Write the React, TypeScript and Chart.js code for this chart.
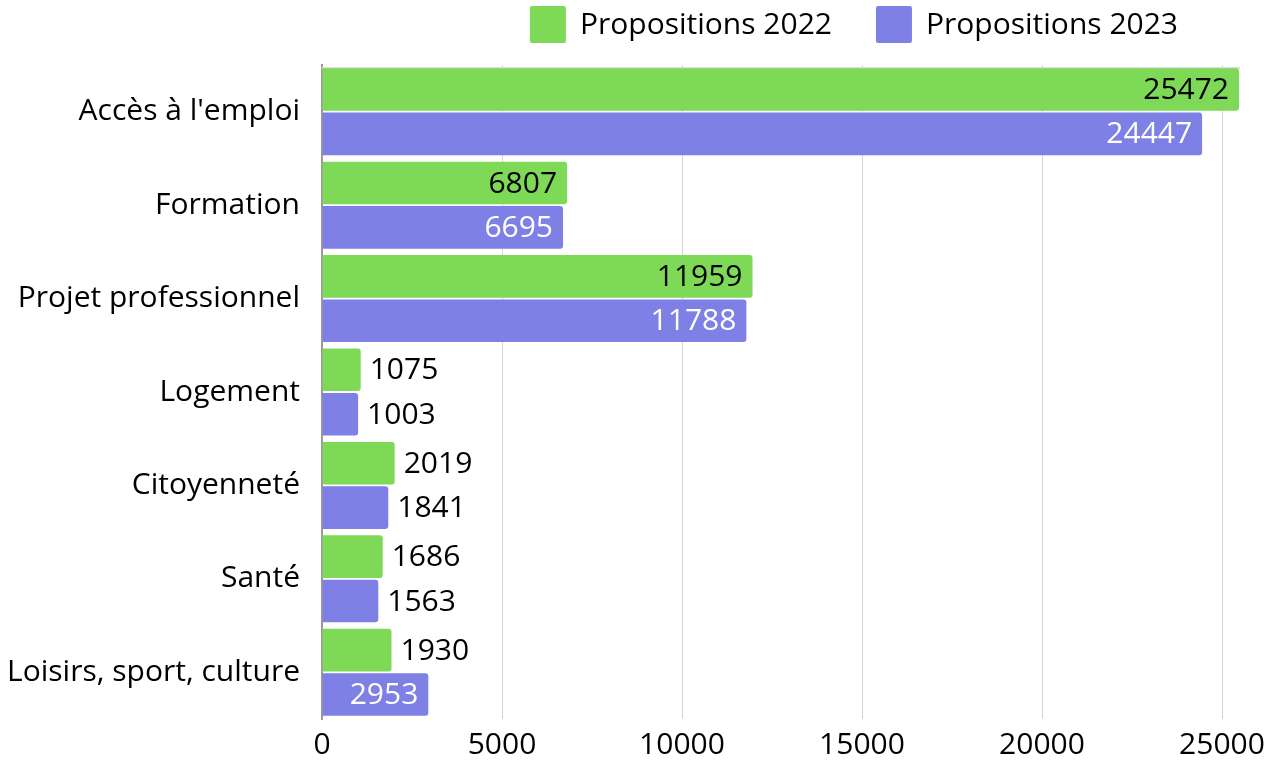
import React, { useEffect, useRef } from "react";
import { Chart, registerables } from "chart.js";

Chart.register(...registerables);

const categories = [
  "Accès à l'emploi",
  "Formation",
  "Projet professionnel",
  "Logement",
  "Citoyenneté",
  "Santé",
  "Loisirs, sport, culture",
];
const values2022 = [25472, 6807, 11959, 1075, 2019, 1686, 1930];
const values2023 = [24447, 6695, 11788, 1003, 1841, 1563, 2953];
const seriesLabels = ["Propositions 2022", "Propositions 2023"];
const xTicks = [0, 5000, 10000, 15000, 20000, 25000];

const GREEN = "#7ed957";
const PURPLE = "#7f80e6";
const FONT = "'Open Sans', 'Noto Sans', sans-serif";
const FS = 30;

const labelPlugin = {
  id: "valueLabels",
  afterDatasetsDraw(chart: any) {
    const ctx = chart.ctx;
    ctx.save();
    ctx.font = `${FS}px ${FONT}`;
    ctx.textBaseline = "middle";
    chart.data.datasets.forEach((ds: any, di: number) => {
      const meta = chart.getDatasetMeta(di);
      meta.data.forEach((el: any, i: number) => {
        const txt = String(ds.data[i]);
        const w = ctx.measureText(txt).width;
        const barW = el.x - el.base;
        if (barW >= w + 30) {
          ctx.textAlign = "right";
          ctx.fillStyle = di === 0 ? "#000000" : "#ffffff";
          ctx.fillText(txt, el.x - 10, el.y + 1);
        } else {
          ctx.textAlign = "left";
          ctx.fillStyle = "#000000";
          ctx.fillText(txt, el.x + 9, el.y + 1);
        }
      });
    });
    ctx.restore();
  },
};

const framePlugin = {
  id: "frameAndLegend",
  beforeDatasetsDraw(chart: any) {
    const ctx = chart.ctx;
    const a = chart.chartArea;
    ctx.save();
    ctx.strokeStyle = "#dcdcdc";
    ctx.lineWidth = 2;
    ctx.beginPath();
    ctx.moveTo(a.left, a.top + 3);
    ctx.lineTo(a.right, a.top + 3);
    ctx.stroke();
    ctx.restore();
  },
  afterDraw(chart: any) {
    const ctx = chart.ctx;
    ctx.save();
    ctx.font = `${FS}px ${FONT}`;
    ctx.textBaseline = "middle";
    ctx.textAlign = "left";
    const box = 36;
    const gap = 14;
    const itemGap = 44;
    const colors = [GREEN, PURPLE];
    const widths = seriesLabels.map((t) => box + gap + ctx.measureText(t).width);
    const total = widths.reduce((s, w) => s + w, 0) + itemGap * (widths.length - 1);
    let x = chart.width - 86 - total;
    const top = 6;
    seriesLabels.forEach((t, i) => {
      ctx.fillStyle = colors[i];
      ctx.beginPath();
      ctx.roundRect(x, top, box, box + 1, 2);
      ctx.fill();
      ctx.fillStyle = "#000000";
      ctx.fillText(t, x + box + gap, top + box / 2 + 1);
      x += widths[i] + itemGap;
    });
    ctx.restore();
  },
};

export default function App() {
  const ref = useRef<HTMLCanvasElement | null>(null);
  useEffect(() => {
    document.body.style.margin = "0";
    const chart = new Chart(ref.current as HTMLCanvasElement, {
      type: "bar",
      data: {
        labels: categories,
        datasets: [
          {
            label: seriesLabels[0],
            data: values2022,
            backgroundColor: GREEN,
            borderRadius: 3,
            categoryPercentage: 0.95,
            barPercentage: 0.96,
          },
          {
            label: seriesLabels[1],
            data: values2023,
            backgroundColor: PURPLE,
            borderRadius: 3,
            categoryPercentage: 0.95,
            barPercentage: 0.96,
          },
        ],
      },
      options: {
        indexAxis: "y",
        responsive: false,
        animation: false,
        devicePixelRatio: 1,
        layout: { padding: { top: 65, left: 5, right: 24, bottom: 0 } },
        plugins: {
          legend: { display: false },
          tooltip: { enabled: false },
        },
        scales: {
          x: {
            min: 0,
            max: 25500,
            afterBuildTicks: (scale: any) => {
              scale.ticks = xTicks.map((v) => ({ value: v }));
            },
            afterFit: (scale: any) => {
              scale.height = 42;
              scale.paddingLeft = 0;
              scale.paddingRight = 0;
            },
            ticks: {
              font: { family: FONT, size: FS },
              color: "#000000",
              padding: 8,
              maxRotation: 0,
              callback: (v: any) => String(v),
            },
            grid: { color: "#d4d4d4", lineWidth: 1, drawTicks: false },
            border: { display: false },
          },
          y: {
            afterFit: (scale: any) => {
              scale.width = 317;
            },
            ticks: {
              font: { family: FONT, size: FS },
              color: "#000000",
              padding: 22,
            },
            grid: { display: false, drawTicks: false },
            border: { display: true, color: "#9a9a9a", width: 2 },
          },
        },
      },
      plugins: [framePlugin, labelPlugin],
    } as any);
    return () => chart.destroy();
  }, []);
  return (
    <div style={{ width: 1264, height: 761 }}>
      <canvas ref={ref} width={1264} height={761} />
    </div>
  );
}
